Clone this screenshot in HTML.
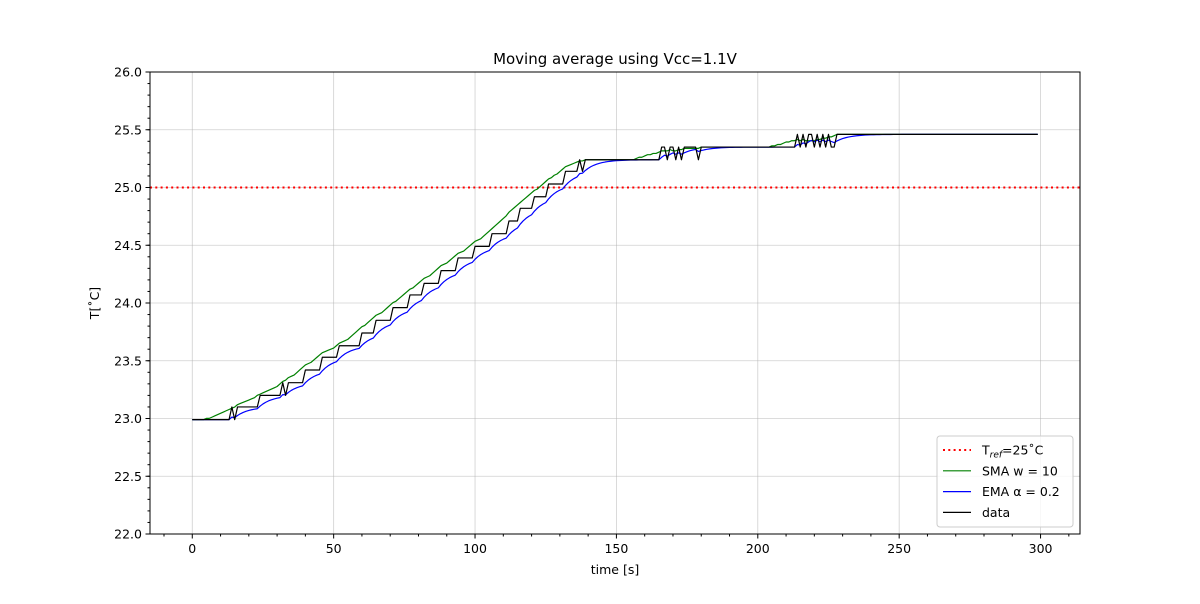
<!DOCTYPE html>
<html><head><meta charset="utf-8"><style>
body{margin:0;background:#fff;font-family:"DejaVu Sans","Liberation Sans",sans-serif}
svg text{font-family:"DejaVu Sans","Liberation Sans",sans-serif}
</style></head><body>
<svg id="c" width="1200" height="600"></svg>
<script>
// data as step breakpoints: time [s] where value begins
const stepTimes = [0,14,15,16,24,32,33,34,40,46,52,60,65,71,77,82,88,94,100,106,112,116,121,126,132,137,138,139,166,168,169,171,172,173,174,176,177,179,180,214,215,216,217,218,220,221,222,223,224,225,226,228];
const stepVals  = [22.99,23.10,22.99,23.10,23.20,23.31,23.20,23.31,23.42,23.53,23.63,23.74,23.85,23.96,24.07,24.17,24.28,24.39,24.49,24.60,24.71,24.82,24.92,25.03,25.14,25.24,25.14,25.24,25.35,25.24,25.35,25.24,25.35,25.24,25.35,25.35,25.35,25.24,25.35,25.46,25.35,25.46,25.35,25.46,25.35,25.46,25.35,25.46,25.35,25.46,25.35,25.46];
const xTicks = [0,50,100,150,200,250,300];
const yTicks = [22.0,22.5,23.0,23.5,24.0,24.5,25.0,25.5,26.0];
const tRef = 25.0, smaW = 10, emaA = 0.2, nPts = 300;

const L=150,R=1080,T=72,B=534, xmin=-14.95,xmax=313.95,ymin=22,ymax=26;
const X=v=>L+(v-xmin)/(xmax-xmin)*(R-L), Y=v=>B-(v-ymin)/(ymax-ymin)*(B-T);
const svg=document.getElementById('c'), NS='http://www.w3.org/2000/svg';
function mk(tag,attrs,parent){const e=document.createElementNS(NS,tag);for(const k in attrs)e.setAttribute(k,attrs[k]);(parent||svg).appendChild(e);return e;}

const data=[];let si=0;
for(let t=0;t<nPts;t++){while(si+1<stepTimes.length&&stepTimes[si+1]<=t)si++;data.push(stepVals[si]);}
const sma=data.map((v,i)=>{const s=data.slice(i,Math.min(i+smaW,nPts));return s.reduce((a,b)=>a+b,0)/s.length;});
const ema=[];data.forEach((v,i)=>ema.push(i?emaA*v+(1-emaA)*ema[i-1]:v));

xTicks.forEach(v=>{const g=mk('line',{x1:X(v),x2:X(v),y1:T,y2:B,stroke:'#b0b0b0','stroke-width':0.8,'stroke-opacity':0.6});
});
yTicks.forEach(v=>{const g=mk('line',{x1:L,x2:R,y1:Y(v),y2:Y(v),stroke:'#b0b0b0','stroke-width':0.8,'stroke-opacity':0.6});
});

const rl=mk('line',{x1:L,x2:R,y1:Y(tRef),y2:Y(tRef),stroke:'red','stroke-width':2,'stroke-dasharray':'2,3.3'});


function line(arr,col,name){const p=mk('polyline',{points:arr.map((v,i)=>X(i)+','+Y(v)).join(' '),fill:'none',stroke:col,'stroke-width':1.2,'stroke-linejoin':'round'});
}
line(sma,'green','sma-line');line(ema,'blue','ema-line');line(data,'black','data-line');

const fr=mk('rect',{x:L,y:T,width:R-L,height:B-T,fill:'none',stroke:'#000','stroke-width':1});


xTicks.forEach(v=>{mk('line',{x1:X(v),x2:X(v),y1:B,y2:B+4.5,stroke:'#000'});
const t=mk('text',{x:X(v),y:B+19,'text-anchor':'middle','font-size':12.5});t.textContent=v;
});
for(let v=-10;v<=310;v+=10){if(v%50)mk('line',{x1:X(v),x2:X(v),y1:B,y2:B+2.5,stroke:'#000'});}
yTicks.forEach(v=>{mk('line',{x1:L,x2:L-4.5,y1:Y(v),y2:Y(v),stroke:'#000'});
const t=mk('text',{x:L-8,y:Y(v)+4.5,'text-anchor':'end','font-size':12.5});t.textContent=v.toFixed(1);
});
for(let v=22;v<=26.001;v+=0.1){mk('line',{x1:L,x2:L-2.5,y1:Y(v),y2:Y(v),stroke:'#000'});}

let e=mk('text',{x:615,y:64,'text-anchor':'middle','font-size':15});e.textContent='Moving average using Vcc=1.1V';

e=mk('text',{x:615,y:574,'text-anchor':'middle','font-size':12.5});e.textContent='time [s]';

e=mk('text',{x:0,y:0,'text-anchor':'middle','font-size':12.5,transform:'translate(99,303) rotate(-90)'});e.textContent='T[˚C]';


const lg=mk('g',{});
mk('rect',{x:937,y:436,width:136,height:91,rx:3,fill:'#fff','fill-opacity':0.8,stroke:'#ccc'},lg);
const ents=[['red','2,3.3',2,'ref'],['green','',1.2,'SMA w = 10'],['blue','',1.2,'EMA α = 0.2'],['black','',1.2,'data']];
ents.forEach((en,i)=>{const y=450+i*20.8;
mk('line',{x1:943,x2:971,y1:y,y2:y,stroke:en[0],'stroke-width':en[2],'stroke-dasharray':en[1]||'none'},lg);
const t=mk('text',{x:982,y:y+4.5,'font-size':12.5},lg);
if(i==0){t.innerHTML='T<tspan font-size="9" dy="3" font-style="italic">ref</tspan><tspan dy="-3">=25˚C</tspan>';}else t.textContent=en[3];
});
</script>
</body></html>
